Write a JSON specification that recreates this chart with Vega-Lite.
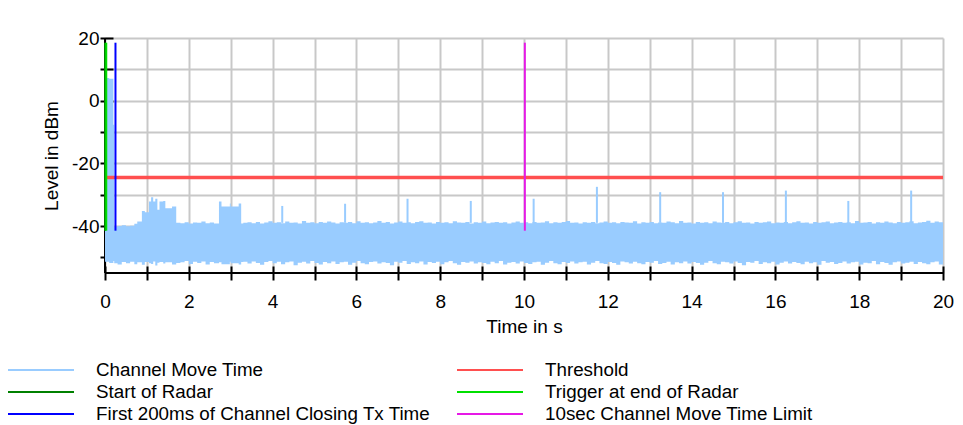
{
  "$schema": "https://vega.github.io/schema/vega-lite/v6.json",
  "width": 838,
  "height": 235,
  "autosize": {"type": "none"},
  "padding": {"left": 105, "top": 38, "right": 20, "bottom": 152},
  "background": "white",
  "config": {
    "view": {"stroke": null},
    "font": "Liberation Sans",
    "axis": {
      "labelFont": "Liberation Sans",
      "titleFont": "Liberation Sans",
      "labelFontSize": 19,
      "titleFontSize": 19,
      "labelColor": "black",
      "titleColor": "black",
      "titleFontWeight": "normal",
      "tickColor": "black",
      "tickWidth": 2,
      "gridColor": "#c8c8c8",
      "gridWidth": 2,
      "gridOpacity": 1,
      "domain": false,
      "labelOverlap": false,
      "labelFlush": false
    }
  },
  "datasets": {
    "band": [
      {"t": 0.0, "v": 7.2, "v2": -51.4},
      {"t": 0.1, "v": 7.0, "v2": -51.8},
      {"t": 0.2, "v": -7.7, "v2": -51.2},
      {"t": 0.22, "v": -40.2, "v2": -51.9},
      {"t": 0.3, "v": -40.0, "v2": -52.3},
      {"t": 0.4, "v": -39.8, "v2": -51.5},
      {"t": 0.5, "v": -40.1, "v2": -51.9},
      {"t": 0.6, "v": -39.9, "v2": -51.4},
      {"t": 0.7, "v": -39.3, "v2": -52.2},
      {"t": 0.77, "v": -38.6, "v2": -51.6},
      {"t": 0.88, "v": -35.2, "v2": -52.4},
      {"t": 0.95, "v": -35.6, "v2": -51.5},
      {"t": 1.05, "v": -32.2, "v2": -51.9},
      {"t": 1.1, "v": -30.8, "v2": -52.1},
      {"t": 1.15, "v": -32.2, "v2": -51.3},
      {"t": 1.2, "v": -31.3, "v2": -52.6},
      {"t": 1.25, "v": -34.8, "v2": -51.7},
      {"t": 1.3, "v": -32.2, "v2": -51.5},
      {"t": 1.39, "v": -32.0, "v2": -52.0},
      {"t": 1.44, "v": -34.3, "v2": -51.6},
      {"t": 1.6, "v": -33.8, "v2": -52.3},
      {"t": 1.7, "v": -39.0, "v2": -51.8},
      {"t": 1.8, "v": -39.1, "v2": -51.6},
      {"t": 1.9, "v": -38.8, "v2": -51.2},
      {"t": 2.0, "v": -39.2, "v2": -52.1},
      {"t": 2.1, "v": -38.9, "v2": -51.4},
      {"t": 2.2, "v": -39.0, "v2": -51.8},
      {"t": 2.3, "v": -38.6, "v2": -51.3},
      {"t": 2.4, "v": -39.1, "v2": -52.3},
      {"t": 2.5, "v": -38.9, "v2": -51.5},
      {"t": 2.6, "v": -39.2, "v2": -51.9},
      {"t": 2.72, "v": -32.2, "v2": -51.6},
      {"t": 2.78, "v": -33.8, "v2": -52.2},
      {"t": 2.98, "v": -32.8, "v2": -51.4},
      {"t": 3.0, "v": -33.8, "v2": -51.9},
      {"t": 3.19, "v": -32.8, "v2": -52.3},
      {"t": 3.25, "v": -39.2, "v2": -51.5},
      {"t": 3.3, "v": -39.0, "v2": -51.4},
      {"t": 3.4, "v": -38.8, "v2": -52.0},
      {"t": 3.5, "v": -39.1, "v2": -51.3},
      {"t": 3.6, "v": -38.7, "v2": -51.8},
      {"t": 3.7, "v": -39.2, "v2": -52.4},
      {"t": 3.8, "v": -38.9, "v2": -51.5},
      {"t": 3.9, "v": -38.5, "v2": -51.2},
      {"t": 4.0, "v": -39.0, "v2": -51.9},
      {"t": 4.1, "v": -38.8, "v2": -51.4},
      {"t": 4.2, "v": -39.1, "v2": -52.2},
      {"t": 4.3, "v": -38.6, "v2": -51.6},
      {"t": 4.4, "v": -39.0, "v2": -51.3},
      {"t": 4.5, "v": -38.9, "v2": -52.5},
      {"t": 4.6, "v": -39.2, "v2": -51.7},
      {"t": 4.7, "v": -38.4, "v2": -51.4},
      {"t": 4.8, "v": -39.0, "v2": -52.0},
      {"t": 4.9, "v": -38.8, "v2": -51.2},
      {"t": 5.0, "v": -39.1, "v2": -51.8},
      {"t": 5.1, "v": -38.7, "v2": -52.3},
      {"t": 5.2, "v": -39.0, "v2": -51.5},
      {"t": 5.3, "v": -38.6, "v2": -51.9},
      {"t": 5.4, "v": -38.9, "v2": -51.3},
      {"t": 5.5, "v": -39.2, "v2": -52.1},
      {"t": 5.6, "v": -38.8, "v2": -51.6},
      {"t": 5.7, "v": -39.0, "v2": -51.4},
      {"t": 5.8, "v": -38.7, "v2": -52.4},
      {"t": 5.9, "v": -39.1, "v2": -51.7},
      {"t": 6.0, "v": -38.5, "v2": -51.2},
      {"t": 6.1, "v": -39.0, "v2": -51.9},
      {"t": 6.2, "v": -38.8, "v2": -52.2},
      {"t": 6.3, "v": -39.1, "v2": -51.5},
      {"t": 6.4, "v": -38.9, "v2": -51.3},
      {"t": 6.5, "v": -38.4, "v2": -52.0},
      {"t": 6.6, "v": -39.0, "v2": -51.6},
      {"t": 6.7, "v": -38.7, "v2": -51.8},
      {"t": 6.8, "v": -39.2, "v2": -52.5},
      {"t": 6.9, "v": -38.9, "v2": -51.4},
      {"t": 7.0, "v": -38.6, "v2": -51.7},
      {"t": 7.1, "v": -39.0, "v2": -51.2},
      {"t": 7.2, "v": -38.8, "v2": -52.1},
      {"t": 7.3, "v": -39.1, "v2": -51.6},
      {"t": 7.4, "v": -38.7, "v2": -51.9},
      {"t": 7.5, "v": -38.5, "v2": -51.3},
      {"t": 7.6, "v": -39.0, "v2": -52.3},
      {"t": 7.7, "v": -38.9, "v2": -51.5},
      {"t": 7.8, "v": -39.2, "v2": -51.8},
      {"t": 7.9, "v": -38.7, "v2": -51.4},
      {"t": 8.0, "v": -39.0, "v2": -52.2},
      {"t": 8.1, "v": -38.8, "v2": -51.6},
      {"t": 8.2, "v": -39.1, "v2": -51.2},
      {"t": 8.3, "v": -38.5, "v2": -51.9},
      {"t": 8.4, "v": -38.9, "v2": -52.4},
      {"t": 8.5, "v": -39.0, "v2": -51.5},
      {"t": 8.6, "v": -38.7, "v2": -51.7},
      {"t": 8.7, "v": -39.2, "v2": -51.3},
      {"t": 8.8, "v": -38.8, "v2": -52.0},
      {"t": 8.9, "v": -39.0, "v2": -51.6},
      {"t": 9.0, "v": -38.6, "v2": -51.8},
      {"t": 9.1, "v": -39.1, "v2": -52.2},
      {"t": 9.2, "v": -38.9, "v2": -51.4},
      {"t": 9.3, "v": -38.7, "v2": -51.9},
      {"t": 9.4, "v": -39.0, "v2": -51.2},
      {"t": 9.5, "v": -38.8, "v2": -52.3},
      {"t": 9.6, "v": -39.2, "v2": -51.7},
      {"t": 9.7, "v": -38.9, "v2": -51.5},
      {"t": 9.8, "v": -38.6, "v2": -52.0},
      {"t": 9.9, "v": -39.0, "v2": -51.3},
      {"t": 10.0, "v": -38.8, "v2": -51.8},
      {"t": 10.1, "v": -39.1, "v2": -52.1},
      {"t": 10.2, "v": -38.7, "v2": -51.6},
      {"t": 10.3, "v": -39.0, "v2": -51.4},
      {"t": 10.4, "v": -38.9, "v2": -52.4},
      {"t": 10.5, "v": -38.5, "v2": -51.7},
      {"t": 10.6, "v": -39.1, "v2": -51.2},
      {"t": 10.7, "v": -38.8, "v2": -51.9},
      {"t": 10.8, "v": -39.0, "v2": -52.2},
      {"t": 10.9, "v": -38.7, "v2": -51.5},
      {"t": 11.0, "v": -38.4, "v2": -51.8},
      {"t": 11.1, "v": -39.0, "v2": -51.3},
      {"t": 11.2, "v": -38.9, "v2": -52.0},
      {"t": 11.3, "v": -39.2, "v2": -51.6},
      {"t": 11.4, "v": -38.8, "v2": -51.4},
      {"t": 11.5, "v": -39.0, "v2": -52.3},
      {"t": 11.6, "v": -38.7, "v2": -51.7},
      {"t": 11.7, "v": -39.1, "v2": -51.2},
      {"t": 11.8, "v": -38.9, "v2": -51.9},
      {"t": 11.9, "v": -38.6, "v2": -52.1},
      {"t": 12.0, "v": -39.0, "v2": -51.5},
      {"t": 12.1, "v": -38.8, "v2": -51.8},
      {"t": 12.2, "v": -39.1, "v2": -52.4},
      {"t": 12.3, "v": -38.7, "v2": -51.3},
      {"t": 12.4, "v": -38.9, "v2": -51.6},
      {"t": 12.5, "v": -39.0, "v2": -52.0},
      {"t": 12.6, "v": -38.5, "v2": -51.4},
      {"t": 12.7, "v": -39.2, "v2": -51.9},
      {"t": 12.8, "v": -38.8, "v2": -52.2},
      {"t": 12.9, "v": -39.0, "v2": -51.5},
      {"t": 13.0, "v": -38.7, "v2": -51.7},
      {"t": 13.1, "v": -39.1, "v2": -51.2},
      {"t": 13.2, "v": -38.9, "v2": -52.1},
      {"t": 13.3, "v": -39.0, "v2": -51.8},
      {"t": 13.4, "v": -38.6, "v2": -51.4},
      {"t": 13.5, "v": -38.8, "v2": -52.3},
      {"t": 13.6, "v": -39.1, "v2": -51.6},
      {"t": 13.7, "v": -38.4, "v2": -51.9},
      {"t": 13.8, "v": -39.0, "v2": -51.3},
      {"t": 13.9, "v": -38.9, "v2": -52.0},
      {"t": 14.0, "v": -39.2, "v2": -51.5},
      {"t": 14.1, "v": -38.7, "v2": -51.8},
      {"t": 14.2, "v": -39.0, "v2": -52.4},
      {"t": 14.3, "v": -38.8, "v2": -51.7},
      {"t": 14.4, "v": -39.1, "v2": -51.2},
      {"t": 14.5, "v": -38.6, "v2": -51.9},
      {"t": 14.6, "v": -38.9, "v2": -52.2},
      {"t": 14.7, "v": -39.0, "v2": -51.4},
      {"t": 14.8, "v": -38.7, "v2": -51.6},
      {"t": 14.9, "v": -39.1, "v2": -52.0},
      {"t": 15.0, "v": -38.8, "v2": -51.3},
      {"t": 15.1, "v": -38.5, "v2": -51.8},
      {"t": 15.2, "v": -39.0, "v2": -52.5},
      {"t": 15.3, "v": -38.9, "v2": -51.5},
      {"t": 15.4, "v": -39.2, "v2": -51.7},
      {"t": 15.5, "v": -38.7, "v2": -51.2},
      {"t": 15.6, "v": -39.0, "v2": -52.1},
      {"t": 15.7, "v": -38.8, "v2": -51.6},
      {"t": 15.8, "v": -38.6, "v2": -51.9},
      {"t": 15.9, "v": -39.1, "v2": -51.4},
      {"t": 16.0, "v": -38.9, "v2": -52.3},
      {"t": 16.1, "v": -39.0, "v2": -51.7},
      {"t": 16.2, "v": -38.7, "v2": -51.3},
      {"t": 16.3, "v": -39.1, "v2": -52.0},
      {"t": 16.4, "v": -38.8, "v2": -51.5},
      {"t": 16.5, "v": -38.5, "v2": -51.8},
      {"t": 16.6, "v": -39.0, "v2": -52.2},
      {"t": 16.7, "v": -38.9, "v2": -51.4},
      {"t": 16.8, "v": -39.2, "v2": -51.9},
      {"t": 16.9, "v": -38.7, "v2": -51.6},
      {"t": 17.0, "v": -39.0, "v2": -52.4},
      {"t": 17.1, "v": -38.8, "v2": -51.2},
      {"t": 17.2, "v": -38.6, "v2": -51.7},
      {"t": 17.3, "v": -39.1, "v2": -51.5},
      {"t": 17.4, "v": -38.9, "v2": -52.1},
      {"t": 17.5, "v": -38.7, "v2": -51.8},
      {"t": 17.6, "v": -39.0, "v2": -51.3},
      {"t": 17.7, "v": -38.8, "v2": -52.0},
      {"t": 17.8, "v": -39.1, "v2": -51.6},
      {"t": 17.9, "v": -38.4, "v2": -51.4},
      {"t": 18.0, "v": -39.0, "v2": -52.3},
      {"t": 18.1, "v": -38.9, "v2": -51.7},
      {"t": 18.2, "v": -38.7, "v2": -51.9},
      {"t": 18.3, "v": -39.2, "v2": -51.2},
      {"t": 18.4, "v": -38.8, "v2": -52.2},
      {"t": 18.5, "v": -39.0, "v2": -51.5},
      {"t": 18.6, "v": -38.6, "v2": -51.8},
      {"t": 18.7, "v": -38.9, "v2": -52.4},
      {"t": 18.8, "v": -39.1, "v2": -51.6},
      {"t": 18.9, "v": -38.7, "v2": -51.3},
      {"t": 19.0, "v": -39.0, "v2": -52.0},
      {"t": 19.1, "v": -38.8, "v2": -51.7},
      {"t": 19.2, "v": -38.5, "v2": -51.4},
      {"t": 19.3, "v": -39.1, "v2": -52.1},
      {"t": 19.4, "v": -38.9, "v2": -51.5},
      {"t": 19.5, "v": -38.7, "v2": -51.9},
      {"t": 19.6, "v": -38.3, "v2": -52.2},
      {"t": 19.7, "v": -39.0, "v2": -51.6},
      {"t": 19.8, "v": -38.6, "v2": -51.3},
      {"t": 19.9, "v": -38.8, "v2": -52.3},
      {"t": 20.0, "v": -38.9, "v2": -51.8}
    ],
    "spikes": [
      {"t": 4.23, "v": -33.6, "v2": -39},
      {"t": 5.73, "v": -32.9, "v2": -39},
      {"t": 7.22, "v": -31.3, "v2": -39},
      {"t": 8.73, "v": -32.0, "v2": -39},
      {"t": 10.23, "v": -31.3, "v2": -39},
      {"t": 11.74, "v": -27.5, "v2": -39},
      {"t": 13.25, "v": -29.2, "v2": -39},
      {"t": 14.75, "v": -29.2, "v2": -39},
      {"t": 16.25, "v": -28.7, "v2": -39},
      {"t": 17.74, "v": -32.0, "v2": -39},
      {"t": 19.24, "v": -28.7, "v2": -39}
    ],
    "threshold": [
      {"series": "Threshold", "v": -24.5}
    ],
    "axisline": [
      {"t": 0, "v": -55}
    ],
    "markers": [
      {"series": "Start of Radar", "t": 0.0, "v": 18.5, "v2": -41.5},
      {"series": "Trigger at end of Radar", "t": 0.03, "v": 18.5, "v2": -41.5},
      {"series": "First 200ms of Channel Closing Tx Time", "t": 0.25, "v": 18.5, "v2": -41.5},
      {"series": "10sec Channel Move Time Limit", "t": 10.02, "v": 18.5, "v2": -41.5}
    ]
  },
  "layer": [
    {
      "data": {"name": "axisline"},
      "mark": {"type": "rule", "color": "black", "strokeWidth": 2},
      "encoding": {
        "x": {"field": "t", "type": "quantitative"}
      }
    },
    {
      "data": {"name": "band"},
      "mark": {"type": "area", "interpolate": "step-after", "opacity": 1},
      "encoding": {
        "x": {
          "field": "t", "type": "quantitative",
          "scale": {"domain": [0, 20], "nice": false, "zero": false},
          "axis": {
            "title": "Time in s",
            "values": [0,1,2,3,4,5,6,7,8,9,10,11,12,13,14,15,16,17,18,19,20],
            "tickCount": 30,
            "labelExpr": "datum.value % 2 == 0 ? '' + datum.value : ''",
            "offset": -7,
            "tickSize": 14,
            "labelPadding": 12,
            "titlePadding": 6,
            "grid": true
          }
        },
        "y": {
          "field": "v", "type": "quantitative",
          "scale": {"domain": [-55, 20], "nice": false, "zero": false},
          "axis": {
            "title": "Level in dBm",
            "values": [-50,-40,-30,-20,-10,0,10,20],
            "tickCount": 20,
            "labelExpr": "datum.value % 20 == 0 ? '' + datum.value : ''",
            "offset": -8,
            "tickSize": 13,
            "labelPadding": 1,
            "titlePadding": 10,
            "grid": true
          }
        },
        "y2": {"field": "v2"},
        "color": {"datum": "Channel Move Time", "type": "nominal"}
      }
    },
    {
      "data": {"name": "spikes"},
      "mark": {"type": "rule", "strokeWidth": 2},
      "encoding": {
        "x": {"field": "t", "type": "quantitative"},
        "y": {"field": "v", "type": "quantitative"},
        "y2": {"field": "v2"},
        "color": {"datum": "Channel Move Time", "type": "nominal"}
      }
    },
    {
      "data": {"name": "threshold"},
      "mark": {"type": "rule", "strokeWidth": 3.5},
      "encoding": {
        "y": {"field": "v", "type": "quantitative"},
        "color": {"field": "series", "type": "nominal"}
      }
    },
    {
      "data": {"name": "markers"},
      "mark": {"type": "rule", "strokeWidth": 2},
      "encoding": {
        "x": {"field": "t", "type": "quantitative"},
        "y": {"field": "v", "type": "quantitative"},
        "y2": {"field": "v2"},
        "color": {
          "field": "series", "type": "nominal",
          "scale": {
            "domain": ["Channel Move Time", "Start of Radar", "First 200ms of Channel Closing Tx Time", "Threshold", "Trigger at end of Radar", "10sec Channel Move Time Limit"],
            "range": ["#99ccff", "#008000", "#0000ff", "#ff4f4f", "#00e000", "#e619e6"]
          },
          "legend": {
            "title": null,
            "orient": "none",
            "legendX": -98,
            "legendY": 321.5,
            "columns": 2,
            "columnPadding": 25,
            "rowPadding": 1,
            "clipHeight": 21,
            "padding": 0,
            "symbolType": "stroke",
            "symbolSize": 4356,
            "symbolStrokeWidth": 2,
            "labelOffset": 21,
            "labelFont": "Liberation Sans",
            "labelFontSize": 18.8,
            "labelColor": "black",
            "labelLimit": 600
          }
        }
      }
    },
    {
      "data": {"name": "axisline"},
      "mark": {"type": "rule", "color": "black", "strokeWidth": 2},
      "encoding": {
        "y": {"field": "v", "type": "quantitative"}
      }
    }
  ]
}
